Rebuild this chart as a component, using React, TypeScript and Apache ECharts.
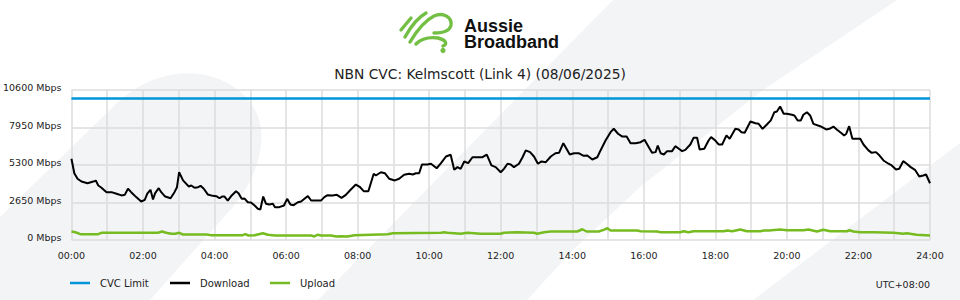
import React, { useEffect, useRef } from "react";
import * as echarts from "echarts";

const titleText = "NBN CVC: Kelmscott (Link 4) (08/06/2025)";
const seriesNames = ["CVC Limit", "Download", "Upload"];
const yTicks = [0, 2650, 5300, 7950, 10600];
const hourMin = 0;
const hourMax = 24;
const cvcLimitMbps = 10000;
const timezoneLabel = "UTC+08:00";

// [hour of day, Mbps]
const download: [number, number][] = [
  [0, 5740], [0.08, 4720], [0.17, 4330], [0.28, 4130], [0.45, 4010], [0.61, 4130], [0.68, 4200],
  [0.75, 3850], [0.84, 3690], [0.98, 3380], [1.12, 3380], [1.26, 3270], [1.4, 3150], [1.49, 3190],
  [1.58, 3620], [1.67, 3380], [1.81, 3030], [1.95, 2720], [2.05, 2840], [2.12, 3270], [2.21, 3550],
  [2.28, 2860], [2.34, 3310], [2.44, 3660], [2.51, 3380], [2.62, 3070], [2.77, 2950], [2.88, 3380],
  [2.95, 3730], [3.01, 4790], [3.12, 4210], [3.21, 3970], [3.28, 3780], [3.35, 3850], [3.44, 3690],
  [3.54, 3730], [3.61, 3830], [3.7, 3620], [3.81, 3220], [3.95, 3120], [4.05, 3100], [4.14, 2950],
  [4.21, 3070], [4.28, 3070], [4.37, 2790], [4.48, 3150], [4.6, 3450], [4.67, 3310], [4.76, 2910],
  [4.84, 2930], [4.93, 2670], [5.02, 2650], [5.12, 2440], [5.21, 2210], [5.28, 2160], [5.36, 3070],
  [5.44, 2560], [5.53, 2510], [5.63, 2560], [5.69, 2320], [5.81, 2320], [5.94, 2440], [6.03, 2910],
  [6.12, 2510], [6.21, 2460], [6.33, 2670], [6.42, 2720], [6.53, 2950], [6.61, 3100], [6.7, 2790],
  [6.98, 2800], [7.07, 3030], [7.16, 3170], [7.3, 3150], [7.42, 3190], [7.55, 2980], [7.67, 3190],
  [7.81, 3570], [7.95, 3920], [8.07, 3730], [8.17, 3450], [8.3, 3450], [8.45, 4680], [8.51, 4560],
  [8.65, 4790], [8.76, 4720], [8.88, 4330], [9.04, 4210], [9.16, 4330], [9.3, 4610], [9.44, 4680],
  [9.54, 4630], [9.63, 4720], [9.72, 4720], [9.8, 5340], [9.95, 5340], [10.05, 5390], [10.21, 5070],
  [10.33, 5430], [10.47, 5900], [10.6, 6020], [10.7, 4960], [10.79, 5150], [10.88, 5030], [10.98, 5550],
  [11.09, 5430], [11.21, 5850], [11.35, 5850], [11.49, 5850], [11.61, 6040], [11.74, 5270], [11.86, 5150],
  [12.0, 4790], [12.09, 5030], [12.19, 5390], [12.28, 5340], [12.37, 5150], [12.51, 5390], [12.61, 5850],
  [12.7, 6330], [12.82, 6210], [12.93, 5900], [13.04, 5390], [13.14, 5550], [13.26, 5500], [13.4, 5900],
  [13.53, 6130], [13.63, 6160], [13.75, 6840], [13.93, 6040], [14.05, 6130], [14.19, 6130], [14.32, 5950],
  [14.42, 5970], [14.56, 5690], [14.7, 5850], [14.79, 6330], [14.93, 7030], [15.07, 7620], [15.16, 7860],
  [15.28, 7510], [15.4, 7310], [15.52, 7310], [15.63, 6840], [15.77, 6840], [15.91, 6910], [16.02, 7080],
  [16.14, 6560], [16.23, 6160], [16.33, 6210], [16.39, 6680], [16.47, 6130], [16.56, 6040], [16.65, 6280],
  [16.79, 6280], [16.88, 6630], [16.98, 6450], [17.07, 6280], [17.16, 6370], [17.3, 6750], [17.39, 7220],
  [17.49, 7220], [17.56, 6400], [17.69, 6450], [17.81, 7030], [17.88, 7270], [18.0, 7030], [18.09, 6750],
  [18.19, 6750], [18.31, 7390], [18.4, 7150], [18.56, 7860], [18.65, 7810], [18.73, 7620], [18.82, 7580],
  [18.98, 8370], [19.12, 8250], [19.21, 8210], [19.32, 7860], [19.44, 8160], [19.55, 8450], [19.65, 9030],
  [19.72, 9080], [19.81, 9430], [19.91, 8920], [20.0, 8920], [20.14, 8850], [20.21, 8800], [20.3, 8450],
  [20.39, 8450], [20.46, 8850], [20.56, 9030], [20.65, 8800], [20.74, 8210], [20.93, 8040], [21.1, 7810],
  [21.19, 7860], [21.3, 8020], [21.4, 7790], [21.51, 7580], [21.6, 7390], [21.66, 7510], [21.74, 8040],
  [21.83, 7150], [22.05, 7150], [22.14, 6750], [22.28, 6330], [22.37, 6160], [22.49, 6210], [22.59, 5970],
  [22.7, 5620], [22.84, 5390], [22.93, 5270], [23.05, 4980], [23.14, 5030], [23.25, 5570], [23.35, 5390],
  [23.46, 5150], [23.58, 4960], [23.7, 4490], [23.81, 4560], [23.89, 4630], [24.0, 4010],
];

const upload: [number, number][] = [
  [0, 600], [0.11, 550], [0.25, 410], [0.75, 410], [0.84, 510], [2.42, 510], [2.53, 600], [2.65, 510],
  [2.79, 440], [2.9, 440], [3.01, 510], [3.12, 390], [3.77, 390], [3.91, 340], [4.79, 340], [4.86, 410],
  [4.95, 320], [5.12, 340], [5.35, 480], [5.49, 370], [5.69, 320], [6.7, 320], [6.79, 250], [6.88, 370],
  [6.98, 320], [7.26, 320], [7.4, 250], [7.53, 270], [7.72, 250], [7.91, 340], [8.84, 410], [8.98, 480],
  [10.33, 510], [10.42, 550], [10.51, 510], [10.88, 440], [11.07, 510], [11.44, 440], [12.0, 440],
  [12.09, 510], [12.47, 550], [12.93, 510], [13.02, 440], [13.21, 550], [13.4, 600], [14.14, 600],
  [14.28, 760], [14.4, 600], [14.74, 600], [14.88, 720], [14.98, 830], [15.07, 670], [15.81, 670],
  [15.91, 620], [16.37, 600], [16.47, 550], [17.02, 550], [17.11, 620], [17.25, 550], [17.39, 620],
  [18.23, 620], [18.33, 670], [18.47, 620], [18.7, 740], [18.88, 620], [19.26, 620], [19.35, 670],
  [19.49, 670], [19.81, 740], [20.0, 690], [20.46, 690], [20.6, 740], [20.84, 600], [21.02, 720],
  [21.21, 620], [21.68, 620], [21.75, 690], [21.86, 600], [22.05, 550], [22.42, 550], [22.98, 510],
  [23.26, 440], [23.35, 480], [23.63, 370], [24.0, 320],
];

const FONT = "DejaVu Sans";
const BLUE = "#0096d8";
const GREEN = "#76bc21";
const BG_GREY = "#f3f4f6";

const BG_LEFT =
  "M0 217 L118 102 C142 80 172 70 200 74 C238 80 266 108 261 145 C258 170 247 190 233 207 L150 300 L0 300 Z";
const BG_MID = "M318 300 L613 0 L897 0 L763 90 L640 187 L573 250 L527 300 Z";
const BG_RIGHT = "M753 300 L960 143 L960 300 Z";
const LOGO_MARK =
  "M401 30 L411 18 M405 37 C410 28 417 18 426 13 M410 42 C416 32 424 21 434 16 C443 12 452 17 451 25 C450 31 442 33 434 33 M416 44 C422 38 430 37 438 38 C446 40 448 44 443 46";

export default function App() {
  const ref = useRef<HTMLDivElement>(null);

  useEffect(() => {
    if (!ref.current) return;
    echarts.graphic.registerShape("bgLeft", echarts.graphic.extendPath(BG_LEFT, {}));
    echarts.graphic.registerShape("bgMid", echarts.graphic.extendPath(BG_MID, {}));
    echarts.graphic.registerShape("bgRight", echarts.graphic.extendPath(BG_RIGHT, {}));
    echarts.graphic.registerShape("logoMark", echarts.graphic.extendPath(LOGO_MARK, {}));

    const chart = echarts.init(ref.current, undefined, { renderer: "svg" });
    const pad = (n: number) => (n < 10 ? "0" + n : "" + n);
    const legendBase = {
      top: 278,
      padding: 0,
      itemWidth: 20,
      itemHeight: 2.5,
      textStyle: { fontFamily: FONT, fontSize: 10, color: "#222", padding: [0, 0, 0, 5] },
    };

    chart.setOption({
      animation: false,
      backgroundColor: "#ffffff",
      title: {
        text: titleText,
        left: "center",
        top: 62,
        textStyle: { fontFamily: FONT, fontSize: 13.8, fontWeight: "normal", color: "#222" },
      },
      legend: seriesNames.map((n, i) => ({
        ...legendBase,
        left: 70 + i * 100,
        data: [{ name: n, icon: "rect" }],
      })),
      grid: { left: 70, right: 30, top: 90, bottom: 60 },
      xAxis: {
        type: "value",
        min: hourMin,
        max: hourMax,
        interval: 1,
        axisLine: { show: false },
        axisTick: { show: false },
        splitLine: { show: true, lineStyle: { color: "#dcdcdc", width: 1.5 } },
        axisLabel: {
          fontFamily: FONT,
          fontSize: 9.5,
          color: "#222",
          margin: 10,
          formatter: (v: number) => (v % 2 === 0 ? pad(v) + ":00" : ""),
        },
      },
      yAxis: {
        type: "value",
        min: yTicks[0],
        max: yTicks[yTicks.length - 1],
        interval: yTicks[1] - yTicks[0],
        axisLine: { show: false },
        axisTick: { show: false },
        splitLine: { show: true, lineStyle: { color: "#dcdcdc", width: 1.5 } },
        axisLabel: {
          fontFamily: FONT,
          fontSize: 9.5,
          color: "#222",
          margin: 10,
          verticalAlign: "bottom",
          lineHeight: 5,
          formatter: (v: number) => v + " Mbps",
        },
      },
      series: [
        {
          name: seriesNames[0],
          type: "line",
          data: [
            [hourMin, cvcLimitMbps],
            [hourMax, cvcLimitMbps],
          ],
          showSymbol: false,
          symbol: "none",
          lineStyle: { color: BLUE, width: 2.5 },
          itemStyle: { color: BLUE },
        },
        {
          name: seriesNames[1],
          type: "line",
          data: download,
          showSymbol: false,
          symbol: "none",
          lineStyle: { color: "#000", width: 2 },
          itemStyle: { color: "#000" },
        },
        {
          name: seriesNames[2],
          type: "line",
          data: upload,
          showSymbol: false,
          symbol: "none",
          lineStyle: { color: GREEN, width: 2.5 },
          itemStyle: { color: GREEN },
        },
      ],
      graphic: [
        { type: "bgLeft", z: -10, silent: true, style: { fill: BG_GREY } },
        { type: "bgMid", z: -10, silent: true, style: { fill: BG_GREY } },
        { type: "bgRight", z: -10, silent: true, style: { fill: BG_GREY } },
        {
          type: "logoMark",
          silent: true,
          style: { fill: "none", stroke: "#72bf44", lineWidth: 3.4, lineCap: "round", lineJoin: "round" },
        },
        { type: "circle", silent: true, shape: { cx: 443, cy: 50.5, r: 2.6 }, style: { fill: "#72bf44" } },
        {
          type: "text",
          x: 464,
          y: 33.75,
          silent: true,
          style: {
            text: "Aussie\nBroadband",
            fontFamily: "Liberation Sans",
            fontWeight: "bold",
            fontSize: 18,
            lineHeight: 16.5,
            fill: "#111",
            verticalAlign: "middle",
          },
        },
        {
          type: "text",
          x: 930,
          y: 284,
          silent: true,
          style: {
            text: timezoneLabel,
            fontFamily: FONT,
            fontSize: 9.5,
            fill: "#222",
            align: "right",
            verticalAlign: "middle",
          },
        },
      ],
    });

    return () => chart.dispose();
  }, []);

  return (
    <div
      ref={ref}
      style={{ position: "absolute", left: 0, top: 0, width: 960, height: 300 }}
    />
  );
}
